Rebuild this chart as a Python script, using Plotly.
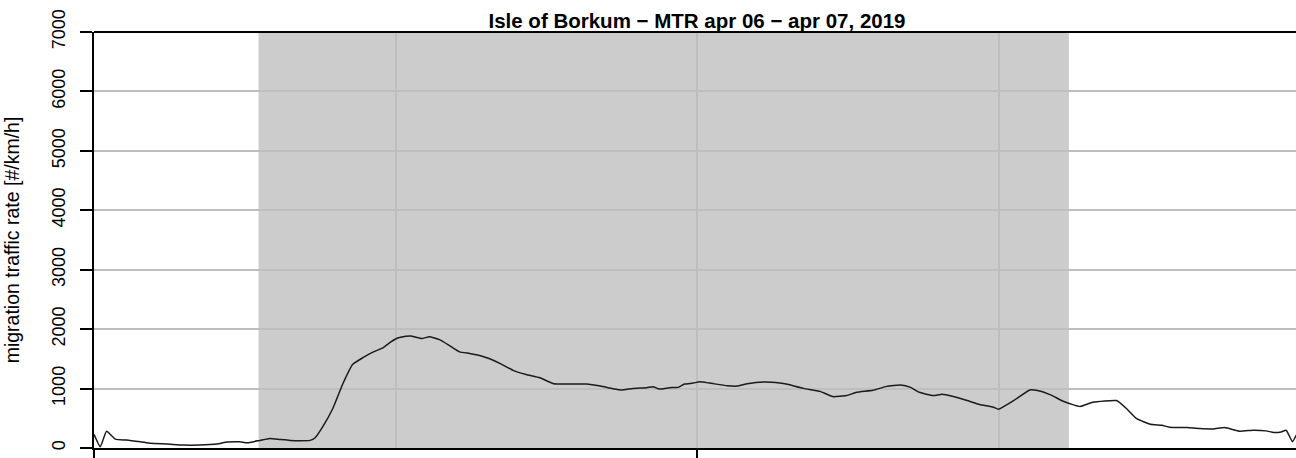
import plotly.graph_objects as go

# Migration traffic rate (MTR) over the night, times in UTC
times = [
    "2019-04-06 16:00", "2019-04-06 16:05", "2019-04-06 16:10", "2019-04-06 16:17",
    "2019-04-06 16:26", "2019-04-06 16:37", "2019-04-06 16:45", "2019-04-06 16:58",
    "2019-04-06 17:11", "2019-04-06 17:24", "2019-04-06 17:38", "2019-04-06 17:46",
    "2019-04-06 17:56", "2019-04-06 18:02", "2019-04-06 18:12", "2019-04-06 18:20",
    "2019-04-06 18:28", "2019-04-06 18:36", "2019-04-06 18:44", "2019-04-06 18:52",
    "2019-04-06 18:56", "2019-04-06 19:02", "2019-04-06 19:10", "2019-04-06 19:18",
    "2019-04-06 19:26", "2019-04-06 19:34", "2019-04-06 19:42", "2019-04-06 19:50",
    "2019-04-06 19:56", "2019-04-06 20:00", "2019-04-06 20:04", "2019-04-06 20:12",
    "2019-04-06 20:21", "2019-04-06 20:27", "2019-04-06 20:35", "2019-04-06 20:43",
    "2019-04-06 20:51", "2019-04-06 20:59", "2019-04-06 21:07", "2019-04-06 21:15",
    "2019-04-06 21:23", "2019-04-06 21:34", "2019-04-06 21:44", "2019-04-06 21:55",
    "2019-04-06 22:06", "2019-04-06 22:16", "2019-04-06 22:32", "2019-04-06 22:43",
    "2019-04-06 22:53", "2019-04-06 23:00", "2019-04-06 23:09", "2019-04-06 23:20",
    "2019-04-06 23:25", "2019-04-06 23:30", "2019-04-06 23:38", "2019-04-06 23:45",
    "2019-04-06 23:50", "2019-04-06 23:57", "2019-04-07 00:02", "2019-04-07 00:10",
    "2019-04-07 00:24", "2019-04-07 00:32", "2019-04-07 00:40", "2019-04-07 00:53",
    "2019-04-07 01:06", "2019-04-07 01:11", "2019-04-07 01:25", "2019-04-07 01:38",
    "2019-04-07 01:48", "2019-04-07 01:59", "2019-04-07 02:07", "2019-04-07 02:20",
    "2019-04-07 02:31", "2019-04-07 02:42", "2019-04-07 02:50", "2019-04-07 02:57",
    "2019-04-07 03:08", "2019-04-07 03:15", "2019-04-07 03:24", "2019-04-07 03:35",
    "2019-04-07 03:45", "2019-04-07 03:56", "2019-04-07 04:00", "2019-04-07 04:12",
    "2019-04-07 04:25", "2019-04-07 04:30", "2019-04-07 04:41", "2019-04-07 04:52",
    "2019-04-07 05:05", "2019-04-07 05:15", "2019-04-07 05:34", "2019-04-07 05:42",
    "2019-04-07 05:50", "2019-04-07 06:01", "2019-04-07 06:10", "2019-04-07 06:16",
    "2019-04-07 06:30", "2019-04-07 06:40", "2019-04-07 06:51", "2019-04-07 07:00",
    "2019-04-07 07:12", "2019-04-07 07:23", "2019-04-07 07:33", "2019-04-07 07:39",
    "2019-04-07 07:45", "2019-04-07 07:49", "2019-04-07 07:54", "2019-04-07 07:57",
]
mtr = [
    230, 20, 283, 150,
    133, 105, 78, 67,
    50, 50, 67, 100,
    105, 88, 128, 161,
    144, 128, 122, 128,
    172, 355, 660, 1076,
    1408, 1519, 1613, 1685,
    1780, 1835, 1863, 1885,
    1841, 1874, 1824, 1724,
    1618, 1591, 1558, 1502,
    1425, 1302, 1236, 1181,
    1081, 1076, 1076, 1042,
    998, 976, 1003, 1015,
    1031, 992, 1015, 1020,
    1076, 1092, 1114, 1092,
    1048, 1042, 1081, 1109,
    1092, 1076, 1003, 953,
    865, 882, 937, 970,
    1037, 1059, 1020, 937,
    882, 904, 865, 798,
    732, 687, 654, 798,
    976, 970, 898, 782,
    698, 770, 798, 660,
    494, 399, 383, 349,
    344, 327, 321, 344,
    283, 299, 288, 261,
    271, 299, 105, 216,
]

# Night period (sunset to sunrise, UTC)
night_start = "2019-04-06 18:11"
night_end = "2019-04-07 04:56"

x_range = ["2019-04-06 16:00", "2019-04-07 07:56:48"]
y_ticks = [0, 1000, 2000, 3000, 4000, 5000, 6000, 7000]

title_text = "Isle of Borkum \u2212 MTR apr 06 \u2212 apr 07, 2019"
y_title = "migration traffic rate [#/km/h]"

FONT = "Liberation Sans, Arial, sans-serif"
GRID = "#bebebe"

fig = go.Figure()
fig.add_trace(go.Scatter(
    x=times, y=mtr, mode="lines",
    line=dict(color="#1a1a1a", width=1.5, shape="spline", smoothing=0.4),
    showlegend=False, hoverinfo="x+y",
))

# night shading
fig.add_shape(
    type="rect", xref="x", yref="paper",
    x0=night_start, x1=night_end, y0=0, y1=1,
    fillcolor="#cccccc", line=dict(width=0), layer="below",
)
# top frame line
fig.add_shape(
    type="line", xref="paper", yref="paper",
    x0=0, x1=1, y0=1, y1=1,
    line=dict(color="black", width=2),
)

fig.update_layout(
    width=1296, height=458,
    margin=dict(l=94, r=0, t=32, b=6),
    paper_bgcolor="white", plot_bgcolor="white",
    font=dict(family=FONT, color="black"),
    title=dict(
        text="<b>" + title_text + "</b>",
        font=dict(size=20.5, family=FONT, color="black"),
        x=697 / 1296, xref="container", xanchor="center",
        y=1 - 21 / 458, yref="container", yanchor="middle",
    ),
    xaxis=dict(
        type="date", range=x_range,
        tick0="2019-04-06 16:00", dtick=8 * 3600 * 1000,
        ticks="outside", ticklen=10, tickwidth=2, tickcolor="black",
        showticklabels=False,
        showgrid=True, gridcolor=GRID, gridwidth=1.5,
        minor=dict(dtick=4 * 3600 * 1000, tick0="2019-04-06 16:00",
                   showgrid=True, gridcolor=GRID, gridwidth=1.5, ticks=""),
        showline=True, linecolor="black", linewidth=2,
        zeroline=False, fixedrange=True,
    ),
    yaxis=dict(
        range=[0, 7000], tickvals=y_ticks,
        ticktext=[str(v) for v in y_ticks],
        tickangle=-90, tickfont=dict(size=18, family=FONT, color="black"),
        ticks="outside", ticklen=12, tickwidth=2, tickcolor="black",
        ticklabelstandoff=8,
        showgrid=True, gridcolor=GRID, gridwidth=1.5,
        showline=True, linecolor="black", linewidth=2,
        zeroline=False, fixedrange=True,
        title=dict(text=y_title, font=dict(size=19.5, family=FONT, color="black"),
                   standoff=24),
    ),
)

fig.write_html("out.html")
